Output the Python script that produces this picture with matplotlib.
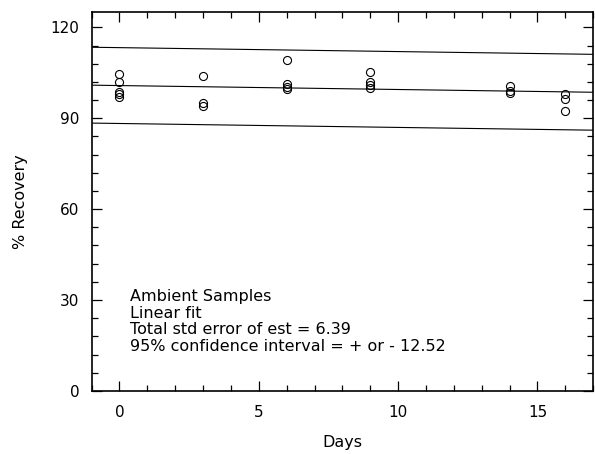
import numpy as np
import matplotlib.pyplot as plt
from matplotlib.ticker import MultipleLocator

# Ambient samples, % recovery per day
days = [0, 0, 0, 0, 0, 3, 3, 3, 6, 6, 6, 6, 9, 9, 9, 9, 14, 14, 14, 16, 16, 16]
recovery = [104.5, 101.9, 98.7, 97.9, 97.0,
            103.9, 95.1, 94.2,
            109.1, 101.2, 100.3, 99.5,
            105.2, 101.9, 101.0, 100.1,
            100.6, 99.0, 98.5,
            97.9, 96.4, 92.5]

# linear fit and 95% band
intercept = 100.8
slope = -0.13
ci = 12.52

info_lines = ["Ambient Samples",
              "Linear fit",
              "Total std error of est = 6.39",
              "95% confidence interval = + or - 12.52"]

plt.rcParams['font.family'] = 'DejaVu Sans'

fig = plt.figure(figsize=(5.95, 4.54), dpi=100)
ax = fig.add_axes([0.154, 0.139, 0.843, 0.834])

xfit = np.array([-1, 17])
yfit = intercept + slope * xfit
ax.plot(xfit, yfit, color='black', lw=0.8)
ax.plot(xfit, yfit + ci, color='black', lw=0.8)
ax.plot(xfit, yfit - ci, color='black', lw=0.8)

ax.plot(days, recovery, 'o', mfc='none', mec='black', ms=5.8, mew=0.8)

ax.set_xlim(-1, 17)
ax.set_ylim(0, 125)
ax.xaxis.set_major_locator(MultipleLocator(5))
ax.xaxis.set_minor_locator(MultipleLocator(1))
ax.yaxis.set_major_locator(MultipleLocator(30))
ax.yaxis.set_minor_locator(MultipleLocator(6))
ax.tick_params(which='both', direction='in', top=True, right=True, width=0.9, labelsize=11)
ax.tick_params(which='major', length=7.2)
ax.tick_params(which='minor', length=4.2)
ax.tick_params(axis='y', pad=9)
ax.tick_params(axis='x', pad=10)
for s in ax.spines.values():
    s.set_linewidth(1.2)

ax.set_xlabel('Days', fontsize=11.5, labelpad=11)
ax.set_ylabel('% Recovery', fontsize=11.5, labelpad=16)

ybase = [29.8, 24.2, 18.8, 13.2]
for line, yb in zip(info_lines, ybase):
    ax.text(0.38, yb, line, fontsize=11.5, va='baseline', ha='left')

fig.savefig('out.png', dpi=100)
